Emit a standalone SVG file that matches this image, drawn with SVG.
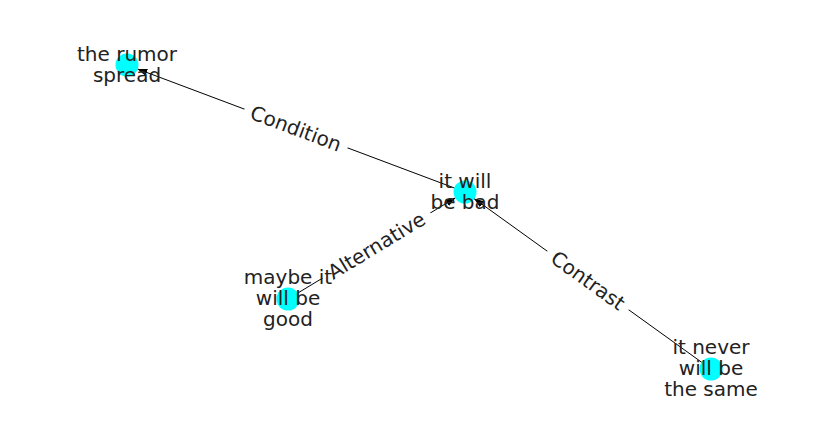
<svg xmlns="http://www.w3.org/2000/svg" width="837" height="434" viewBox="0 0 837 434">
<style>
.edge{stroke:#000;stroke-width:1;fill:none}
.node{fill:#00ffff}
.lbl{font-family:"DejaVu Sans",sans-serif;font-size:20px;fill:#222;text-anchor:middle}
.elbl{font-family:"DejaVu Sans",sans-serif;font-size:20px;fill:#222;text-anchor:middle;dominant-baseline:central}
.bg{fill:#fff}
</style>
<defs>
<marker id="arr" markerUnits="userSpaceOnUse" markerWidth="10" markerHeight="8" viewBox="0 -4 10 8" refX="10" refY="0" orient="auto">
<path d="M0,-3.6 L10,0 L0,3.6 z" fill="#000"/>
</marker>
</defs>
<rect width="837" height="434" fill="#fff"/>
<g id="edges">
<line class="edge" x1="454.7" y1="188.1" x2="137.3" y2="68.9" marker-end="url(#arr)"/>
<line class="edge" x1="297.4" y1="293.3" x2="455.6" y2="197.7" marker-end="url(#arr)"/>
<line class="edge" x1="702.1" y1="362.6" x2="473.9" y2="198.4" marker-end="url(#arr)"/>
<g transform="translate(296,128.5) rotate(20.6)">
<rect class="bg" x="-55" y="-13" width="110" height="26" rx="4"/>
<text class="elbl" x="0" y="0">Condition</text>
</g>
<g transform="translate(376.5,245.5) rotate(-31.2)">
<rect class="bg" x="-63" y="-13" width="126" height="26" rx="4"/>
<text class="elbl" x="0" y="0">Alternative</text>
</g>
<g transform="translate(588,280.5) rotate(35.7)">
<rect class="bg" x="-50" y="-13" width="100" height="26" rx="4"/>
<text class="elbl" x="0" y="0">Contrast</text>
</g>
</g>
<g id="node-rumor">
<circle class="node" cx="127" cy="65" r="11.5"/>
<text class="lbl" x="127" y="60.5">the rumor</text>
<text class="lbl" x="127" y="81.5">spread</text>
</g>
<g id="node-bad">
<circle class="node" cx="465" cy="192" r="11.5"/>
<text class="lbl" x="465" y="187.5">it will</text>
<text class="lbl" x="465" y="208.5">be bad</text>
</g>
<g id="node-good">
<circle class="node" cx="288" cy="299" r="11.5"/>
<text class="lbl" x="288" y="284">maybe it</text>
<text class="lbl" x="288" y="305">will be</text>
<text class="lbl" x="288" y="326">good</text>
</g>
<g id="node-same">
<circle class="node" cx="711" cy="369" r="11.5"/>
<text class="lbl" x="711" y="354">it never</text>
<text class="lbl" x="711" y="375">will be</text>
<text class="lbl" x="711" y="396">the same</text>
</g>
</svg>
